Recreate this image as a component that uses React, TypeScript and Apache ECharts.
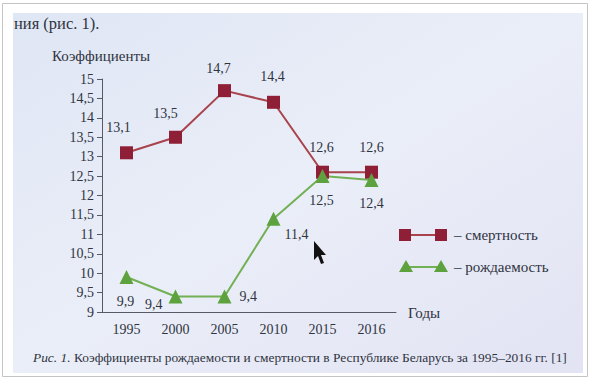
import React, { useEffect, useRef } from "react";
import * as echarts from "echarts";

const years = ["1995", "2000", "2005", "2010", "2015", "2016"];
const mortality = [13.1, 13.5, 14.7, 14.4, 12.6, 12.6];
const birth = [9.9, 9.4, 9.4, 11.4, 12.5, 12.4];
const mortalityLabelOffsets = [[-8, -4], [-10, -2], [-6, -1], [-1, -4], [-1, -3], [0, -3]];
const birthLabelPos = ["bottom", "left", "right", "right", "bottom", "bottom"];
const birthLabelOffsets = [[-1, 2], [2, 8], [0, 0], [-4, 16], [-1, 2], [0, 2]];

const RED = "#8f1f36";
const RED_LINE = "#a8424c";
const GREEN = "#5da23e";
const GREEN_LINE = "#72b055";
const TEXT = "#30343f";
const FONT = "Liberation Serif";

const fmt = (v: number) => String(v).replace(".", ",");

export default function App() {
  const ref = useRef<HTMLDivElement>(null);
  useEffect(() => {
    const chart = echarts.init(ref.current!, undefined, { renderer: "svg" });
    const txt = (size: number, extra: any = {}) => ({
      fontSize: size,
      fontFamily: FONT,
      fill: TEXT,
      ...extra,
    });
    chart.setOption({
      animation: false,
      backgroundColor: "#ffffff",
      textStyle: { fontFamily: FONT, color: TEXT },
      grid: { left: 102, right: 195, top: 79, bottom: 68 },
      xAxis: {
        type: "category",
        data: years,
        boundaryGap: true,
        axisLine: { lineStyle: { color: "#555a66", width: 1 } },
        axisTick: { length: 5, lineStyle: { color: "#555a66" } },
        axisLabel: { color: TEXT, fontSize: 14, fontFamily: FONT, margin: 10 },
      },
      yAxis: {
        type: "value",
        min: 9,
        max: 15,
        interval: 0.5,
        splitLine: { show: false },
        axisLine: { show: true, lineStyle: { color: "#555a66", width: 1 } },
        axisTick: { show: true, length: 5, lineStyle: { color: "#555a66" } },
        axisLabel: { color: TEXT, fontSize: 14, fontFamily: FONT, margin: 8, formatter: (v: number) => fmt(v) },
      },
      series: [
        {
          name: "смертность",
          type: "line",
          data: mortality.map((v, i) => ({
            value: v,
            label: { offset: mortalityLabelOffsets[i] },
          })),
          symbol: "rect",
          symbolSize: 13,
          itemStyle: { color: RED },
          lineStyle: { color: RED_LINE, width: 2 },
          label: {
            show: true,
            position: "top",
            distance: 8,
            color: TEXT,
            fontSize: 14,
            fontFamily: FONT,
            formatter: (p: any) => fmt(p.value),
          },
        },
        {
          name: "рождаемость",
          type: "line",
          data: birth.map((v, i) => ({
            value: v,
            label: { position: birthLabelPos[i], offset: birthLabelOffsets[i] },
          })),
          symbol: "triangle",
          symbolSize: 14,
          itemStyle: { color: GREEN },
          lineStyle: { color: GREEN_LINE, width: 2 },
          label: {
            show: true,
            distance: 8,
            color: TEXT,
            fontSize: 14,
            fontFamily: FONT,
            formatter: (p: any) => fmt(p.value),
          },
        },
      ],
      graphic: [
        {
          type: "rect",
          z: -10,
          silent: true,
          shape: { x: 2.5, y: 3.5, width: 585, height: 373 },
          style: { fill: "#ffffff", stroke: "#c4c4c4", lineWidth: 1 },
        },
        {
          type: "rect",
          z: -9,
          silent: true,
          shape: { x: 13, y: 13, width: 570, height: 360 },
          style: {
            fill: new echarts.graphic.LinearGradient(0, 0, 1, 1, [
              { offset: 0, color: "#dfe6f4" },
              { offset: 0.5, color: "#eaeef8" },
              { offset: 1, color: "#e2e3f3" },
            ]),
          },
        },
        { type: "text", x: 14, y: 15, style: { text: "ния (рис. 1).", ...txt(16.5) } },
        { type: "text", x: 52, y: 48, style: { text: "Коэффициенты", ...txt(15) } },
        { type: "text", x: 408, y: 305, style: { text: "Годы", ...txt(15) } },
        // legend
        {
          type: "line",
          shape: { x1: 403, y1: 235, x2: 443, y2: 235 },
          style: { stroke: RED_LINE, lineWidth: 2 },
        },
        { type: "rect", shape: { x: 399, y: 229, width: 12, height: 12 }, style: { fill: RED } },
        { type: "rect", shape: { x: 435, y: 229, width: 12, height: 12 }, style: { fill: RED } },
        { type: "text", x: 454, y: 227, style: { text: "– смертность", ...txt(15) } },
        {
          type: "line",
          shape: { x1: 404, y1: 267, x2: 443, y2: 267 },
          style: { stroke: GREEN_LINE, lineWidth: 2 },
        },
        {
          type: "polygon",
          shape: { points: [[406, 260], [399, 272], [413, 272]] },
          style: { fill: GREEN },
        },
        {
          type: "polygon",
          shape: { points: [[441, 260], [434, 272], [448, 272]] },
          style: { fill: GREEN },
        },
        { type: "text", x: 454, y: 259, style: { text: "– рождаемость", ...txt(15) } },
        // cursor
        {
          type: "polygon",
          shape: { points: [[314, 241], [314, 260], [318, 256], [321, 264], [324, 263], [321, 255], [326, 255]] },
          style: { fill: "#111111" },
        },
        // caption
        {
          type: "text",
          x: 33,
          y: 351,
          style: {
            rich: {
              i: { fontSize: 13.4, fontFamily: FONT, fontStyle: "italic", fill: TEXT },
              n: { fontSize: 13.4, fontFamily: FONT, fill: TEXT },
            },
            text: "{i|Рис. 1.} {n|Коэффициенты рождаемости и смертности в Республике Беларусь за 1995–2016 гг. [1]}",
          },
        },
      ],
    });
    return () => chart.dispose();
  }, []);
  return (
    <div
      ref={ref}
      style={{ position: "absolute", left: 0, top: 0, width: 591, height: 380 }}
    />
  );
}
